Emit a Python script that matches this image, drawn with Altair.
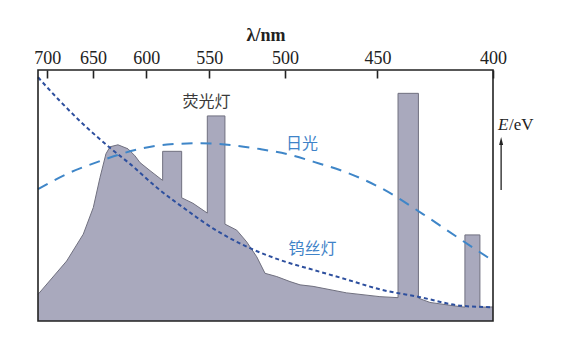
import altair as alt
import pandas as pd

# ---- data (wavelength in nm, relative intensity 0-100) ----
fl_nm = [711.1, 677.9, 660.0, 649.7, 643.0, 637.1, 633.2, 625.6, 616.3, 610.0, 605.5,
         596.8, 586.2, 586.2, 570.9, 570.9, 562.2, 551.5, 551.5, 538.9, 538.9, 530.8,
         524.1, 517.6, 512.3, 505.0, 497.0, 491.1, 483.7, 465.5, 448.8, 440.2, 440.2,
         430.9, 430.9, 425.8, 416.0, 411.1, 411.1, 405.1, 405.1, 400.0]
fl_val = [10.6, 23.9, 34.6, 45.2, 57.1, 66.6, 69.4, 70.2, 68.6, 65.8, 63.1,
          59.9, 56.0, 67.6, 67.6, 49.1, 46.9, 43.0, 81.7, 81.7, 38.6, 36.2,
          31.5, 25.6, 19.0, 17.7, 15.7, 14.4, 13.8, 11.2, 9.7, 9.3, 90.7,
          90.7, 9.1, 7.4, 6.1, 5.5, 34.3, 34.3, 5.5, 5.6]

w_nm = [711.1, 685.3, 660.3, 633.2, 614.5, 590.9, 566.8, 547.4, 521.9, 503.0,
        483.7, 465.3, 448.8, 430.2, 411.9, 400.0]
w_val = [97.1, 87.6, 78.5, 69.0, 62.6, 53.1, 44.1, 36.9, 29.0, 24.3,
         20.4, 16.5, 12.6, 9.5, 6.0, 5.5]

d_nm = [711.1, 677.6, 643.0, 605.5, 582.6, 556.9, 533.3, 515.5, 497.0, 483.7,
        465.3, 448.8, 428.9, 414.4, 401.2]
d_val = [52.5, 58.6, 63.7, 68.6, 70.3, 70.8, 70.0, 68.5, 66.2, 63.5,
         59.1, 53.2, 42.6, 33.5, 24.8]

tick_nm = [700, 650, 600, 550, 500, 450, 400]

lbl_text = ["荧光灯", "日光", "钨丝灯"]
lbl_nm = [552.0, 490.0, 484.0]
lbl_val = [87.3, 70.6, 28.8]
lbl_color = ["#3a3a3a", "#3f83c8", "#3f83c8"]

E_nm = 398.1
E_val = 78.0
arrow_nm = 396.9
arrow_from = 52.2
arrow_to = 71.5

# ---- tables ----
fl = pd.DataFrame({"nm": fl_nm, "v": fl_val})
lines = pd.concat([
    pd.DataFrame({"nm": w_nm, "v": w_val, "s": "钨丝灯"}),
    pd.DataFrame({"nm": d_nm, "v": d_val, "s": "日光"}),
])
labels = pd.DataFrame({"t": lbl_text, "nm": lbl_nm, "v": lbl_val, "c": lbl_color})
evlab = pd.DataFrame({"nm": [E_nm], "v": [E_val]})
arrow = pd.DataFrame({"nm": [arrow_nm], "v": [arrow_from], "v2": [arrow_to]})

# energy-linear wavelength axis: position proportional to 1/lambda
xscale = alt.Scale(type="pow", exponent=-1, domain=[711.1, 400], zero=False, nice=False)
yscale = alt.Scale(domain=[0, 100], zero=True, nice=False)
# axis line pushed 8px into the plot so its upward ticks hang from the top frame
xaxis = alt.Axis(orient="top", values=tick_nm, offset=-8, ticks=True, tickSize=8,
                 tickWidth=1.6, tickColor="#222", domain=False, zindex=1,
                 grid=False, labelPadding=3, labelFont="Liberation Serif",
                 labelFontSize=18, labelColor="#222", labelFlush=False,
                 labelOverlap=False, title="λ/nm", titleFont="Liberation Serif",
                 titleFontSize=18, titleFontWeight="bold", titleColor="#222",
                 titleBaseline="alphabetic", titleY=-38)

X = lambda: alt.X("nm:Q", scale=xscale, axis=xaxis)
Y = lambda: alt.Y("v:Q", scale=yscale, axis=None, stack=None)

area = alt.Chart(fl).mark_area(
    fill="#a9a9bd", fillOpacity=1, interpolate="linear", orient="vertical",
).encode(x=X(), y=Y())

outline = alt.Chart(fl).transform_window(i="row_number()").mark_line(
    color="#70707f", strokeWidth=1, interpolate="linear"
).encode(x=X(), y=Y(), order=alt.Order("i:Q"))

tung = alt.Chart(lines).transform_filter("datum.s == '钨丝灯'").mark_line(
    color="#2d4f9e", strokeWidth=2, strokeDash=[4, 3], interpolate="monotone"
).encode(x=X(), y=Y(), order=alt.Order("nm:Q", sort="descending"))

day = alt.Chart(lines).transform_filter("datum.s == '日光'").mark_line(
    color="#3f86c8", strokeWidth=2, strokeDash=[11, 8], interpolate="monotone"
).encode(x=X(), y=Y(), order=alt.Order("nm:Q", sort="descending"))

text = alt.Chart(labels).mark_text(
    font="Noto Sans CJK SC", fontSize=16, baseline="middle", align="center"
).encode(x=X(), y=Y(), text="t:N", color=alt.Color("c:N", scale=None))

ev_e = alt.Chart(evlab).mark_text(
    font="Liberation Serif", fontSize=17, fontStyle="italic", align="left",
    baseline="middle", color="#222", text="E"
).encode(x=X(), y=Y())
ev_u = alt.Chart(evlab).mark_text(
    font="Liberation Serif", fontSize=17, align="left", baseline="middle",
    color="#222", text="/eV", dx=11
).encode(x=X(), y=Y())

arr = alt.Chart(arrow).mark_rule(color="#222", strokeWidth=1.3).encode(
    x=X(), y=Y(), y2="v2:Q")
head = alt.Chart(arrow).mark_point(
    shape="M0,-1L0.45,0.8L-0.45,0.8Z", filled=True, color="#222", size=80, opacity=1
).encode(x=X(), y=alt.Y("v2:Q", scale=yscale, axis=None))

frame = alt.Chart(evlab).mark_rect(filled=False, stroke="#222", strokeWidth=1.6).encode(
    x=alt.value(0), x2=alt.value("width"), y=alt.value(0), y2=alt.value("height"))

chart = alt.layer(area, outline, day, tung, text, ev_e, ev_u, arr, head, frame).properties(
    width=455, height=251,
    autosize=alt.AutoSizeParams(type="none"),
    padding={"left": 38, "top": 70, "right": 83, "bottom": 31},
    background="white",
).configure_view(stroke=None)

chart.save("out.html", embed_options={"renderer": "svg", "actions": False})
